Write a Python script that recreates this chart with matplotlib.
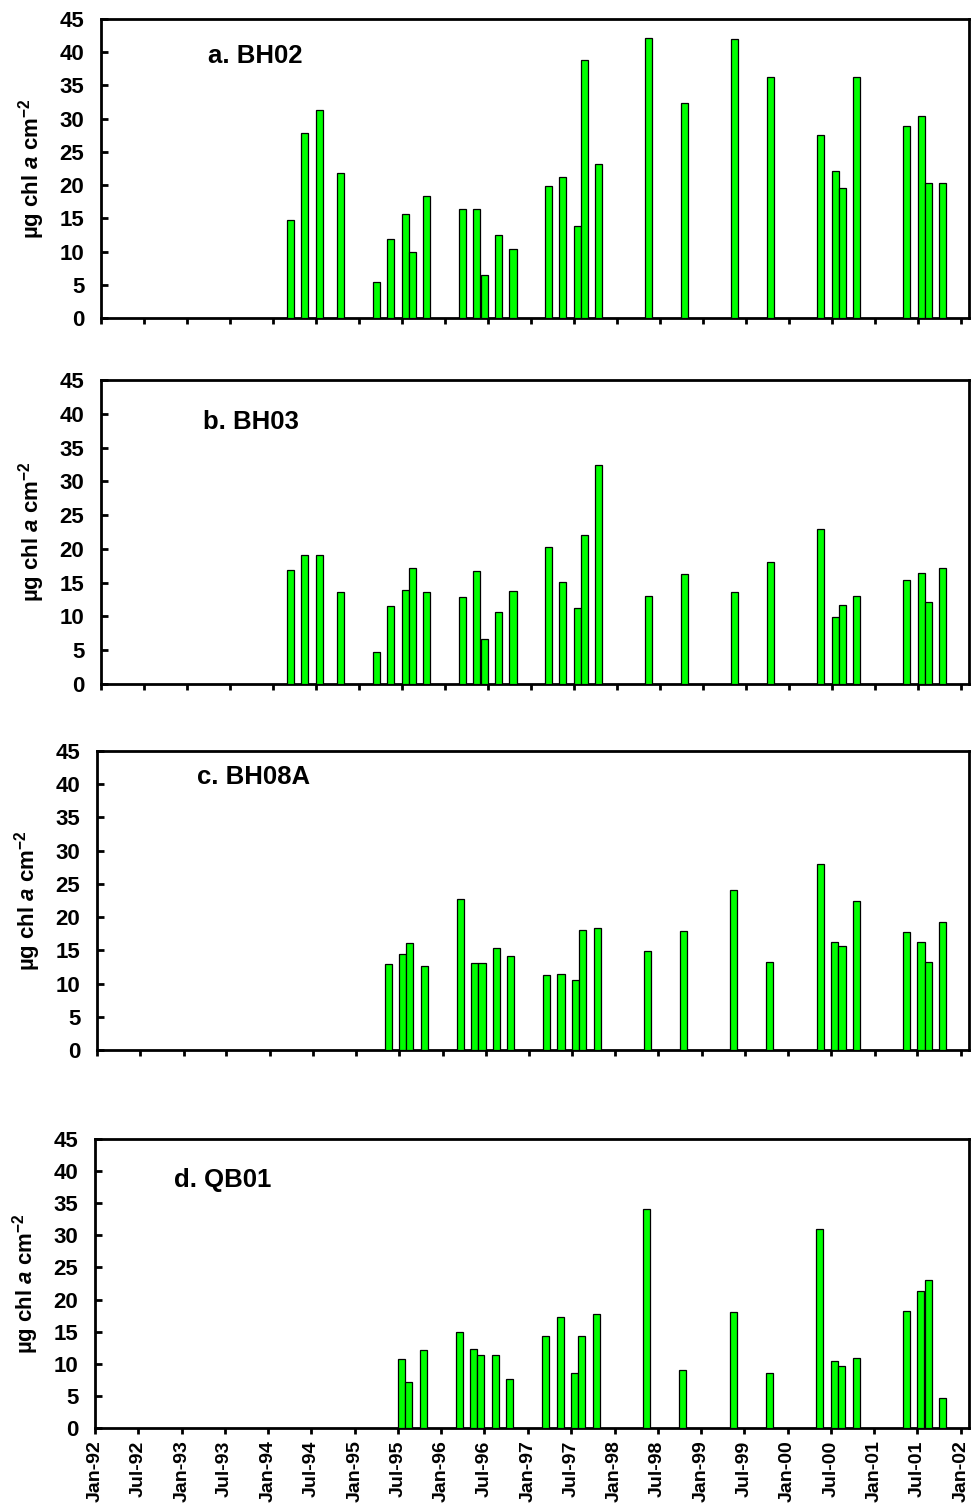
import matplotlib
matplotlib.use('Agg')
import matplotlib.pyplot as plt
import matplotlib.dates as mdates
import numpy as np

plt.rcParams['font.family'] = ['Liberation Sans', 'DejaVu Sans']
plt.rcParams['font.weight'] = 'bold'
plt.rcParams['mathtext.fontset'] = 'custom'
plt.rcParams['mathtext.rm'] = 'Liberation Sans:bold'
plt.rcParams['mathtext.it'] = 'Liberation Sans:italic:bold'
plt.rcParams['mathtext.bf'] = 'Liberation Sans:bold'

# sampling months and chlorophyll values per site
months_bh02 = ['1994-03', '1994-05', '1994-07', '1994-10', '1995-03', '1995-05', '1995-07', '1995-08',
               '1995-10', '1996-03', '1996-05', '1996-06', '1996-08', '1996-10', '1997-03', '1997-05',
               '1997-07', '1997-08', '1997-10', '1998-05', '1998-10', '1999-05', '1999-10', '2000-05',
               '2000-07', '2000-08', '2000-10', '2001-05', '2001-07', '2001-08', '2001-10']
chl_bh02 = [14.8, 27.8, 31.3, 21.8, 5.4, 11.9, 15.6, 9.9,
            18.4, 16.4, 16.4, 6.5, 12.5, 10.4, 19.8, 21.2,
            13.8, 38.8, 23.2, 42.2, 32.4, 42.0, 36.2, 27.6,
            22.1, 19.6, 36.3, 28.9, 30.4, 20.3, 20.3]

months_bh03 = months_bh02
chl_bh03 = [16.9, 19.1, 19.1, 13.6, 4.8, 11.6, 13.9, 17.2,
            13.6, 12.9, 16.7, 6.6, 10.7, 13.8, 20.3, 15.1,
            11.2, 22.0, 32.4, 13.0, 16.3, 13.6, 18.0, 22.9,
            9.9, 11.7, 13.0, 15.4, 16.5, 12.1, 17.2]

months_bh08a = ['1995-05', '1995-07', '1995-08', '1995-10', '1996-03', '1996-05', '1996-06', '1996-08',
                '1996-10', '1997-03', '1997-05', '1997-07', '1997-08', '1997-10', '1998-05', '1998-10',
                '1999-05', '1999-10', '2000-05', '2000-07', '2000-08', '2000-10', '2001-05', '2001-07',
                '2001-08', '2001-10']
chl_bh08a = [12.9, 14.5, 16.1, 12.7, 22.8, 13.1, 13.1, 15.4,
             14.2, 11.3, 11.5, 10.6, 18.1, 18.4, 14.9, 17.9,
             24.1, 13.3, 28.0, 16.3, 15.6, 22.5, 17.7, 16.2,
             13.3, 19.3]

months_qb01 = ['1995-07', '1995-08', '1995-10', '1996-03', '1996-05', '1996-06', '1996-08', '1996-10',
               '1997-03', '1997-05', '1997-07', '1997-08', '1997-10', '1998-05', '1998-10', '1999-05',
               '1999-10', '2000-05', '2000-07', '2000-08', '2000-10', '2001-05', '2001-07', '2001-08',
               '2001-10']
chl_qb01 = [10.7, 7.1, 12.1, 14.9, 12.3, 11.3, 11.3, 7.6,
            14.4, 17.3, 8.5, 14.4, 17.7, 34.1, 9.0, 18.0,
            8.5, 31.0, 10.4, 9.7, 10.9, 18.2, 21.3, 23.0,
            4.6]

panels = [('a. BH02', months_bh02, chl_bh02),
          ('b. BH03', months_bh03, chl_bh03),
          ('c. BH08A', months_bh08a, chl_bh08a),
          ('d. QB01', months_qb01, chl_qb01)]

# axes boxes in pixels: left, right, top, bottom
W, H = 974, 1507
boxes = [(101, 969, 19, 318),
         (101, 969, 380, 684),
         (97, 969, 751, 1050),
         (95, 969, 1139, 1428)]
label_pos = [(208, 56), (203, 422), (197, 777), (174, 1180)]

fig = plt.figure(figsize=(W / 100, H / 100), dpi=100)

for i, ((name, months, vals), (l, r, t, b)) in enumerate(zip(panels, boxes)):
    ax = fig.add_axes([l / W, 1 - b / H, (r - l) / W, (b - t) / H])
    x = np.array([np.datetime64(m + '-16') for m in months])
    ax.bar(x, vals, width=30, color='#00ff00', edgecolor='black', linewidth=0.9, zorder=3)

    ax.set_xlim(np.datetime64('1992-01-01'), np.datetime64('2002-02-04'))
    ax.set_ylim(0, 45)
    ax.set_yticks(np.arange(0, 46, 5))
    ax.xaxis.set_major_locator(mdates.MonthLocator(bymonth=[1, 7]))
    ax.xaxis.set_major_formatter(mdates.DateFormatter('%b-%y'))

    for s in ax.spines.values():
        s.set_linewidth(2.0)
    ax.tick_params(axis='y', direction='in', length=5, width=2, labelsize=16, pad=12)
    ax.tick_params(axis='x', direction='out', length=4, width=2, labelsize=14, pad=5)
    if i < 3:
        ax.tick_params(axis='x', labelbottom=False)
    else:
        for lab in ax.get_xticklabels():
            lab.set_rotation(90)
            lab.set_fontweight('bold')
    for lab in ax.get_yticklabels():
        lab.set_fontweight('bold')

    ax.set_ylabel(r'µg chl $\mathit{a}$ cm$^{-2}$', fontsize=16, fontweight='bold', labelpad=9)
    fig.text(label_pos[i][0] / W, 1 - label_pos[i][1] / H, name, fontsize=18.5,
             fontweight='bold', va='center', ha='left')

fig.savefig('out.png', dpi=100)
